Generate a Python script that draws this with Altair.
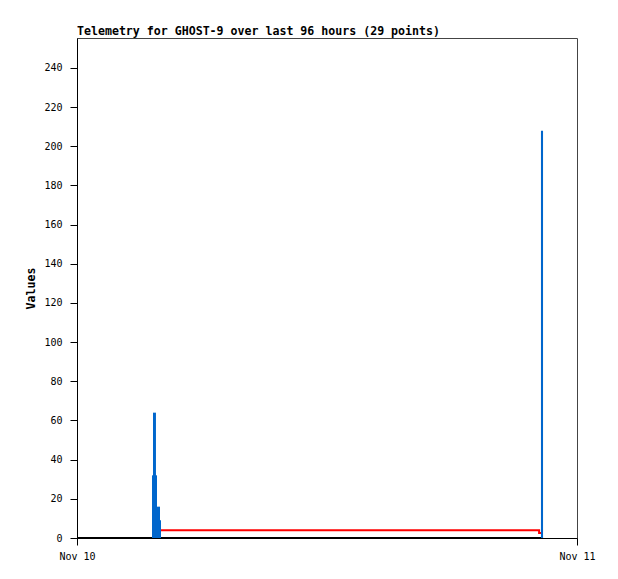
import altair as alt
import pandas as pd

# Blue bars (hours since Nov 10 00:00)
bar_start = [3.60, 3.648, 3.84, 3.984, 22.27]
bar_end = [3.84, 3.79, 3.984, 4.032, 22.37]
bar_value = [32, 64, 16, 9, 208]

# Red line
red_hours = [4.032, 22.18, 22.18, 22.32]
red_values = [4, 4, 2.5, 2.5]

# Black line
black_hours = [0, 22.37]
black_values = [0, 0]

x_ticks = [0, 24]
x_tick_labels = ["Nov 10", "Nov 11"]
y_ticks = list(range(0, 241, 20))

bars = pd.DataFrame({"start": bar_start, "end": bar_end, "value": bar_value})
red = pd.DataFrame({"hour": red_hours, "value": red_values})
black = pd.DataFrame({"hour": black_hours, "value": black_values})

FONT = "DejaVu Sans Mono"

label_expr = " : ".join(
    [f"datum.value == {v} ? '{t}'" for v, t in zip(x_ticks, x_tick_labels)] + ["''"]
)

xscale = alt.Scale(domain=[0, 24], nice=False, zero=False)
yscale = alt.Scale(domain=[0, 255.3], nice=False)

xaxis = alt.Axis(
    values=x_ticks, labelExpr=label_expr, title=None, grid=False,
    tickSize=7, tickColor="black", domainColor="black",
    labelFont=FONT, labelFontSize=10, labelColor="black", labelPadding=6,
    labelFlush=False, labelAlign="center",
)
yaxis = alt.Axis(
    values=y_ticks, title="Values", grid=False,
    tickSize=7, tickColor="black", domainColor="black",
    labelFont=FONT, labelFontSize=10, labelColor="black", labelPadding=8,
    titleFont=FONT, titleFontSize=11.6, titleFontWeight="bold", titleColor="black",
    titlePadding=7,
)

bar_layer = alt.Chart(bars).mark_rect(color="#0066CC").encode(
    x=alt.X("start:Q", scale=xscale, axis=xaxis),
    x2="end:Q",
    y=alt.Y("value:Q", scale=yscale, axis=yaxis),
    y2=alt.datum(0),
)

black_layer = alt.Chart(black).mark_line(color="black", strokeWidth=2).encode(
    x=alt.X("hour:Q", scale=xscale),
    y=alt.Y("value:Q", scale=yscale),
)

red_layer = alt.Chart(red).mark_line(color="#FF0000", strokeWidth=2).encode(
    x=alt.X("hour:Q", scale=xscale),
    y=alt.Y("value:Q", scale=yscale),
)

chart = alt.layer(black_layer, red_layer, bar_layer).properties(
    width=500,
    height=500,
    title=alt.TitleParams(
        "Telemetry for GHOST-9 over last 96 hours (29 points)",
        anchor="start", frame="group", font=FONT, fontSize=11.6, fontWeight="bold",
        color="black", offset=0,
    ),
    autosize=alt.AutoSizeParams(type="none"),
    padding={"left": 69, "top": 30, "right": 33, "bottom": 33},
).configure(
    background="white",
    view=alt.ViewConfig(stroke="#444444", strokeWidth=1),
)

chart.save("out.html", embed_options={"renderer": "svg", "actions": False})
